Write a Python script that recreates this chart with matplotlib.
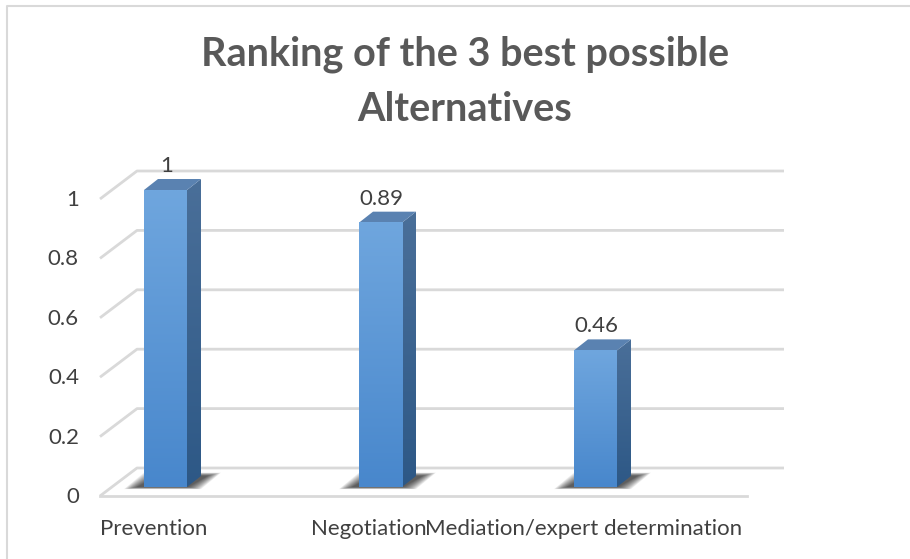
import numpy as np
import matplotlib.pyplot as plt
from matplotlib.patches import Polygon
from matplotlib.lines import Line2D
from matplotlib.colors import LinearSegmentedColormap

categories = ['Prevention', 'Negotiation', 'Mediation/expert determination']
scores = [1.0, 0.89, 0.46]
value_labels = ['1', '0.89', '0.46']
ticks = [0, 0.2, 0.4, 0.6, 0.8, 1.0]
tick_labels = ['0', '0.2', '0.4', '0.6', '0.8', '1']

W, H = 910, 559
plt.rcParams['font.family'] = ['Lato', 'DejaVu Sans']
fig = plt.figure(figsize=(W / 100, H / 100), dpi=100)
ax = fig.add_axes([0, 0, 1, 1])

# pixel scale of the bar plane: 215 px per category, 297 px per unit value
sx, sy = 215.0, 297.0
ax.set_xlim(-165.5 / sx, (W - 165.5) / sx)
ax.set_ylim(-72 / sy, (H - 72) / sy)
ax.axis('off')


def px(dx, dy):
    return dx / sx, dy / sy


front = px(-11.5, -9)    # front edge of the floor / side wall
back = px(25.5, 19)      # back wall
depth = px(14, 11)       # bar depth
half = 0.1               # half bar width (43 px)
wall_l = -54 / sx
wall_r = wall_l + 647 / sx

grid_c = '#d9d9d9'
text_c = '#404040'
fs = 16

# walls and gridlines
for t in ticks:
    ax.plot([wall_l + front[0], wall_l + back[0], wall_r + back[0]],
            [t + front[1], t + back[1], t + back[1]],
            color=grid_c, lw=2, solid_capstyle='butt', zorder=1)
ax.plot([wall_l + front[0], wall_r + front[0]], [front[1], front[1]],
        color=grid_c, lw=2, zorder=1)

for t, lab in zip(ticks, tick_labels):
    ax.text(wall_l + front[0] - 21 / sx, t + front[1] - 7 / sy, lab, ha='right', va='baseline',
            fontsize=fs, color=text_c)

front_cm = LinearSegmentedColormap.from_list('f', ['#4887cc', '#6fa6de'])
side_cm = LinearSegmentedColormap.from_list('s', ['#2d5886', '#4a6f99'])
grad = np.linspace(0, 1, 256).reshape(-1, 1)

for i, (v, lab) in enumerate(zip(scores, value_labels)):
    xl, xr = i - half, i + half
    dx, dy = depth

    # soft shadow on the floor
    for k in range(14, 0, -1):
        ex, ey = px(k, k * 0.6)
        shadow = Polygon([(xl - ex - 6 / sx, -ey * 0.25), (xr + ex, -ey * 0.25),
                          (xr + dx + ex + 6 / sx, dy + ey * 0.4), (xl + dx - ex, dy + ey * 0.4)],
                         closed=True, facecolor='black', edgecolor='none',
                         alpha=0.065, zorder=2)
        ax.add_patch(shadow)

    # side face
    side = Polygon([(xr, 0), (xr + dx, dy), (xr + dx, v + dy), (xr, v)],
                   closed=True, facecolor='none', edgecolor='none')
    ax.add_patch(side)
    im = ax.imshow(grad, extent=[xr, xr + dx, 0, v + dy], origin='lower',
                   cmap=side_cm, aspect='auto', zorder=3)
    im.set_clip_path(side)

    # top face
    ax.add_patch(Polygon([(xl, v), (xr, v), (xr + dx, v + dy), (xl + dx, v + dy)],
                         closed=True, facecolor='#5a82b1', edgecolor='none', zorder=3))

    # front face
    ax.imshow(grad, extent=[xl, xr, 0, v], origin='lower', cmap=front_cm,
              aspect='auto', zorder=4)

    ax.text(i + 1 / sx, v + 18 / sy, lab, ha='center', va='baseline',
            fontsize=fs, color=text_c)
    ax.text(i + front[0], -48 / sy, categories[i], ha='center', va='baseline',
            fontsize=fs, color=text_c)

ax.set_xlim(-165.5 / sx, (W - 165.5) / sx)
ax.set_ylim(-72 / sy, (H - 72) / sy)

fig.text(465 / W, 1 - 82 / H, 'Ranking of the 3 best possible\nAlternatives',
         ha='center', va='center', fontsize=28.5, fontweight='bold',
         color='#595959', linespacing=1.6)

# chart area border (left and top only visible)
fig.add_artist(Line2D([7 / W, 7 / W, 1], [0, 1 - 6 / H, 1 - 6 / H],
                      color=grid_c, lw=1.5, transform=fig.transFigure))

fig.savefig('out.png', dpi=100, facecolor='white')
